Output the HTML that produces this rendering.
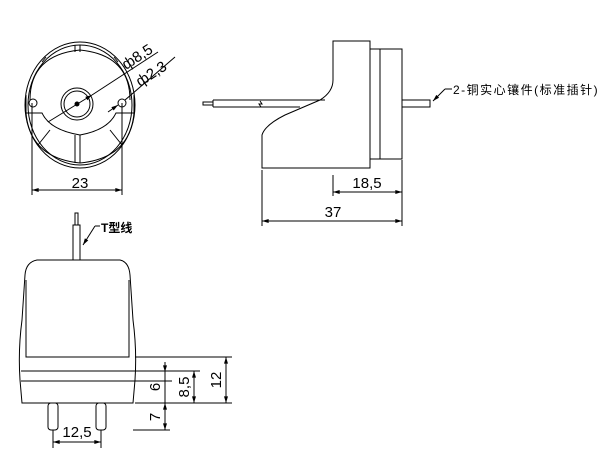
<!DOCTYPE html>
<html><head><meta charset="utf-8"><style>body{margin:0;background:#fff}svg{display:block}</style></head>
<body>
<svg width="600" height="458" viewBox="0 0 600 458" xmlns="http://www.w3.org/2000/svg" font-family="'Liberation Sans','Noto Sans CJK SC',sans-serif">
<defs>
<marker id="a" viewBox="0 0 10 6" refX="10" refY="3" markerWidth="7" markerHeight="4" orient="auto-start-reverse"><path d="M0,0L10,3L0,6z" fill="#000"/></marker>
</defs>
<g fill="none" stroke="#000" stroke-width="1">
<ellipse cx="80" cy="105" rx="55" ry="63"/>
<ellipse cx="80" cy="105" rx="52" ry="60"/>
<path d="M30,100 Q30,55 80,50 Q130,55 130,100"/>
<path d="M26,113 L26,95 M134,113 L134,95"/>
<path d="M26,113 Q30,158 80,163 Q130,158 134,113"/>
<line x1="75" y1="45" x2="75" y2="52"/><line x1="80" y1="45" x2="80" y2="52"/>
<line x1="42" y1="62" x2="46" y2="57"/><line x1="118" y1="62" x2="114" y2="57"/>
<path d="M26,113 L42,113 Q50,130 80,135 Q108,130 116,113 L134,113"/>
<line x1="75" y1="135" x2="75" y2="163"/><line x1="80" y1="135" x2="80" y2="163"/>
<line x1="50" y1="130" x2="38" y2="145"/><line x1="110" y1="130" x2="122" y2="145"/>
<circle cx="77" cy="104" r="16"/><circle cx="77" cy="104" r="13"/>
<circle cx="77" cy="104" r="2" fill="#000"/>
<circle cx="33" cy="103" r="4"/><circle cx="122" cy="103" r="4"/>
<line x1="48" y1="122" x2="92" y2="95" marker-end="url(#a)"/>
<line x1="92" y1="95" x2="158" y2="52"/>
<line x1="108" y1="112" x2="118" y2="105" marker-end="url(#a)"/>
<line x1="125" y1="100" x2="175" y2="57"/>
<line x1="32" y1="103" x2="32" y2="195"/><line x1="122" y1="103" x2="122" y2="195"/>
<line x1="32" y1="190" x2="122" y2="190" marker-start="url(#a)" marker-end="url(#a)"/>
<path d="M333,41 L370,41 L370,168 L262,168 L262,135 Q265,125 285,115 L320,100 Q333,92 333,80 Z"/>
<rect x="370" y="49" width="32" height="110"/>
<line x1="380" y1="49" x2="380" y2="159"/>
<rect x="402" y="100" width="28" height="7"/>
<path d="M213,100 L325,100 M213,107 L300,107 M213,100 L213,107"/>
<rect x="203" y="102" width="10" height="3"/>
<path d="M260,101 L262,104 L259,104 L261,107"/>
<line x1="445" y1="89" x2="433" y2="101" marker-end="url(#a)"/>
<line x1="445" y1="89" x2="452" y2="89"/>
<line x1="262" y1="170" x2="262" y2="226"/><line x1="402" y1="160" x2="402" y2="226"/>
<line x1="333" y1="175" x2="333" y2="196"/>
<line x1="333" y1="192" x2="402" y2="192" marker-start="url(#a)" marker-end="url(#a)"/>
<line x1="262" y1="221" x2="402" y2="221" marker-start="url(#a)" marker-end="url(#a)"/>
<path d="M37,260 L120,260 Q129,262 130,275 L133,320 Q137,350 135,380 L133,403 L22,403 L20,380 Q18,350 22,320 L25,275 Q26,262 37,260 Z"/>
<path d="M26,280 L26,357 L129,357 L129,280"/>
<line x1="21" y1="371" x2="200" y2="371"/><line x1="21" y1="381" x2="172" y2="381"/>
<line x1="135" y1="357" x2="232" y2="357"/><line x1="135" y1="403" x2="232" y2="403"/>
<rect x="48" y="403" width="10" height="27" rx="3"/><rect x="96" y="403" width="10" height="27" rx="3"/>
<rect x="73" y="225" width="7" height="35"/><rect x="75" y="213" width="3" height="12"/>
<line x1="95" y1="226" x2="83" y2="245" marker-end="url(#a)"/><line x1="95" y1="226" x2="100" y2="226"/>
<line x1="133" y1="430" x2="170" y2="430"/>
<line x1="226" y1="357" x2="226" y2="403" marker-start="url(#a)" marker-end="url(#a)"/>
<line x1="194" y1="371" x2="194" y2="403" marker-start="url(#a)" marker-end="url(#a)"/>
<line x1="165" y1="362" x2="165" y2="372" marker-end="url(#a)"/>
<line x1="165" y1="372" x2="165" y2="430"/>
<line x1="165" y1="403" x2="165" y2="412" marker-start="url(#a)"/>
<line x1="165" y1="430" x2="165" y2="422" marker-start="url(#a)"/>
<line x1="53" y1="430" x2="53" y2="448"/><line x1="101" y1="430" x2="101" y2="448"/>
<line x1="53" y1="442" x2="101" y2="442" marker-start="url(#a)" marker-end="url(#a)"/>
</g>
<g font-size="15" fill="#000">
<text x="80" y="188" text-anchor="middle">23</text>
<text x="126" y="70" transform="rotate(-33 126 70)">ф8,5</text>
<text x="140" y="87" transform="rotate(-33 140 87)">ф2,3</text>
<text x="367" y="188" text-anchor="middle">18,5</text>
<text x="333" y="217" text-anchor="middle">37</text>
<text x="453" y="94" font-size="12" letter-spacing="1.5">2-铜实心镶件(标准插针)</text>
<text x="101" y="232" font-size="12" font-weight="bold">T型线</text>
<text x="77" y="437" text-anchor="middle">12,5</text>
<text x="221" y="380" transform="rotate(-90 221 380)" text-anchor="middle">12</text>
<text x="189" y="387" transform="rotate(-90 189 387)" text-anchor="middle">8,5</text>
<text x="160" y="387" transform="rotate(-90 160 387)" text-anchor="middle">6</text>
<text x="160" y="417" transform="rotate(-90 160 417)" text-anchor="middle">7</text>
</g>
</svg>
</body></html>
